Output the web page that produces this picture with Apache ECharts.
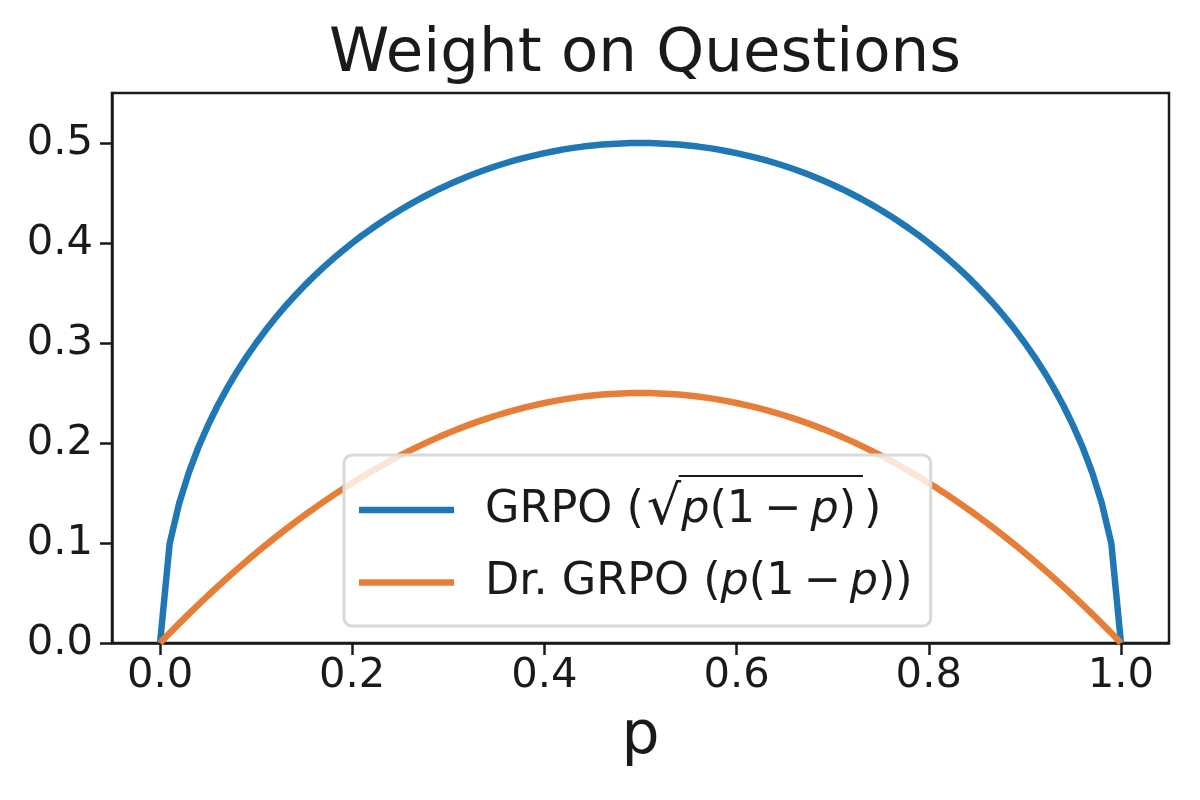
<!DOCTYPE html>
<html>
<head>
<meta charset="utf-8">
<script src="https://cdn.jsdelivr.net/npm/echarts@6/dist/echarts.min.js"></script>
<style>html,body{margin:0;padding:0;background:#fff}#c{width:1200px;height:800px}</style>
</head>
<body>
<div id="c"></div>
<script>
const pValues = [0,0.01,0.02,0.03,0.04,0.05,0.06,0.07,0.08,0.09,0.10,0.11,0.12,0.13,0.14,0.15,0.16,0.17,0.18,0.19,0.20,0.21,0.22,0.23,0.24,0.25,0.26,0.27,0.28,0.29,0.30,0.31,0.32,0.33,0.34,0.35,0.36,0.37,0.38,0.39,0.40,0.41,0.42,0.43,0.44,0.45,0.46,0.47,0.48,0.49,0.50,0.51,0.52,0.53,0.54,0.55,0.56,0.57,0.58,0.59,0.60,0.61,0.62,0.63,0.64,0.65,0.66,0.67,0.68,0.69,0.70,0.71,0.72,0.73,0.74,0.75,0.76,0.77,0.78,0.79,0.80,0.81,0.82,0.83,0.84,0.85,0.86,0.87,0.88,0.89,0.90,0.91,0.92,0.93,0.94,0.95,0.96,0.97,0.98,0.99,1.00];
const grpoValues = [0,0.0995,0.1400,0.1706,0.1960,0.2179,0.2375,0.2551,0.2713,0.2862,0.3000,0.3129,0.3250,0.3363,0.3470,0.3571,0.3666,0.3756,0.3842,0.3923,0.4000,0.4073,0.4142,0.4208,0.4271,0.4330,0.4386,0.4440,0.4490,0.4538,0.4583,0.4625,0.4665,0.4702,0.4737,0.4770,0.4800,0.4828,0.4854,0.4877,0.4899,0.4918,0.4936,0.4951,0.4964,0.4975,0.4984,0.4991,0.4996,0.4999,0.5000,0.4999,0.4996,0.4991,0.4984,0.4975,0.4964,0.4951,0.4936,0.4918,0.4899,0.4877,0.4854,0.4828,0.4800,0.4770,0.4737,0.4702,0.4665,0.4625,0.4583,0.4538,0.4490,0.4440,0.4386,0.4330,0.4271,0.4208,0.4142,0.4073,0.4000,0.3923,0.3842,0.3756,0.3666,0.3571,0.3470,0.3363,0.3250,0.3129,0.3000,0.2862,0.2713,0.2551,0.2375,0.2179,0.1960,0.1706,0.1400,0.0995,0];
const drGrpoValues = [0,0.0099,0.0196,0.0291,0.0384,0.0475,0.0564,0.0651,0.0736,0.0819,0.0900,0.0979,0.1056,0.1131,0.1204,0.1275,0.1344,0.1411,0.1476,0.1539,0.1600,0.1659,0.1716,0.1771,0.1824,0.1875,0.1924,0.1971,0.2016,0.2059,0.2100,0.2139,0.2176,0.2211,0.2244,0.2275,0.2304,0.2331,0.2356,0.2379,0.2400,0.2419,0.2436,0.2451,0.2464,0.2475,0.2484,0.2491,0.2496,0.2499,0.2500,0.2499,0.2496,0.2491,0.2484,0.2475,0.2464,0.2451,0.2436,0.2419,0.2400,0.2379,0.2356,0.2331,0.2304,0.2275,0.2244,0.2211,0.2176,0.2139,0.2100,0.2059,0.2016,0.1971,0.1924,0.1875,0.1824,0.1771,0.1716,0.1659,0.1600,0.1539,0.1476,0.1411,0.1344,0.1275,0.1204,0.1131,0.1056,0.0979,0.0900,0.0819,0.0736,0.0651,0.0564,0.0475,0.0384,0.0291,0.0196,0.0099,0];
const xTicks = [0, 0.2, 0.4, 0.6, 0.8, 1.0];
const yTicks = [0, 0.1, 0.2, 0.3, 0.4, 0.5];
const seriesNames = ['GRPO', 'Dr. GRPO'];

const FONT = 'DejaVu Sans';
const INK = '#1a1a1a';
const LEG_FS = 44.5, SQRT_FS = 54;
const LEG_LEFT = 344, LEG_TOP = 455, LEG_PAD = [28, 18, 21, 15], ICON_W = 95, LEAD = 26;
const SP_OP = 9, SP_SQRT = 3, SP_CLOSE = 8;

// measure text to place the radical's overline
const mctx = document.createElement('canvas').getContext('2d');
function tw(s, fs, italic) { mctx.font = (italic ? 'italic ' : '') + fs + 'px "' + FONT + '"'; return mctx.measureText(s).width; }
const textX0 = LEG_LEFT + LEG_PAD[3] + ICON_W + 5 + LEAD;
const sqrtX = textX0 + tw('GRPO (', LEG_FS) + SP_SQRT;
const sqrtW = tw('√', SQRT_FS);
const radEnd = sqrtX + sqrtW + tw('p', LEG_FS, true) + tw('(1', LEG_FS) + SP_OP + tw('−', LEG_FS) + SP_OP + tw('p', LEG_FS, true) + tw(')', LEG_FS);

const chart = echarts.init(document.getElementById('c'), null, {renderer: 'canvas'});
const textBase = {fontFamily: FONT, fontSize: LEG_FS, color: INK, lineHeight: 55};
chart.setOption({
  animation: false,
  backgroundColor: '#fff',
  title: {
    text: 'Weight on Questions',
    left: 640, top: 20, textAlign: 'center',
    textStyle: {fontFamily: FONT, fontSize: 61, fontWeight: 'normal', color: INK}
  },
  grid: {left: 112, right: 31, top: 93, bottom: 157, show: true, borderColor: INK, borderWidth: 2.5, backgroundColor: 'transparent'},
  xAxis: {
    type: 'value', min: -0.05, max: 1.05,
    name: 'p', nameLocation: 'middle', nameGap: 64,
    nameTextStyle: {fontFamily: FONT, fontSize: 60, color: INK},
    axisLine: {show: true, onZero: false, lineStyle: {color: INK, width: 2.5}},
    axisTick: {show: true, length: 12, customValues: xTicks, lineStyle: {color: INK, width: 2.5}},
    axisLabel: {customValues: xTicks, margin: 12, fontFamily: FONT, fontSize: 41.7, color: INK, formatter: v => v.toFixed(1)},
    splitLine: {show: false}
  },
  yAxis: {
    type: 'value', min: 0, max: 0.55,
    axisLine: {show: true, onZero: false, lineStyle: {color: INK, width: 2.5}},
    axisTick: {show: true, length: 12, customValues: yTicks, lineStyle: {color: INK, width: 2.5}},
    axisLabel: {customValues: yTicks, margin: 19, fontFamily: FONT, fontSize: 41.7, color: INK, formatter: v => v.toFixed(1)},
    splitLine: {show: false}
  },
  legend: {
    left: LEG_LEFT, top: LEG_TOP, orient: 'vertical',
    padding: LEG_PAD, itemGap: 23,
    backgroundColor: 'rgba(255,255,255,0.8)', borderColor: '#d9d9d9', borderWidth: 3, borderRadius: 8,
    icon: 'rect', itemWidth: ICON_W, itemHeight: 6.5, selectedMode: false,
    data: seriesNames,
    textStyle: {
      fontFamily: FONT, fontSize: LEG_FS, color: INK,
      rich: {
        s: {width: LEAD},
        t: textBase,
        i: Object.assign({}, textBase, {fontStyle: 'italic'}),
        r: Object.assign({}, textBase, {fontSize: SQRT_FS}),
        sp: {width: SP_OP},
        sq: {width: SP_SQRT},
        cl: {width: SP_CLOSE}
      }
    },
    formatter: function (name) {
      if (name === 'GRPO') return '{s|}{t|GRPO (}{sq|}{r|√}{i|p}{t|(1}{sp|}{t|−}{sp|}{i|p}{t|)}{cl|}{t|)}';
      return '{s|}{t|Dr. GRPO (}{i|p}{t|(1}{sp|}{t|−}{sp|}{i|p}{t|))}';
    }
  },
  graphic: [{
    type: 'line', z: 100,
    shape: {x1: sqrtX + sqrtW - 2.5, y1: 476, x2: radEnd + SP_CLOSE - 1, y2: 476},
    style: {stroke: INK, lineWidth: 2.2}
  }],
  series: [
    {name: seriesNames[0], type: 'line', showSymbol: false, smooth: false, color: '#1f77b4',
     lineStyle: {width: 6.5, color: '#1f77b4'}, data: pValues.map((p, i) => [p, grpoValues[i]])},
    {name: seriesNames[1], type: 'line', showSymbol: false, smooth: false, color: '#e67e38',
     lineStyle: {width: 6.5, color: '#e67e38'}, data: pValues.map((p, i) => [p, drGrpoValues[i]])}
  ]
});
</script>
</body>
</html>
